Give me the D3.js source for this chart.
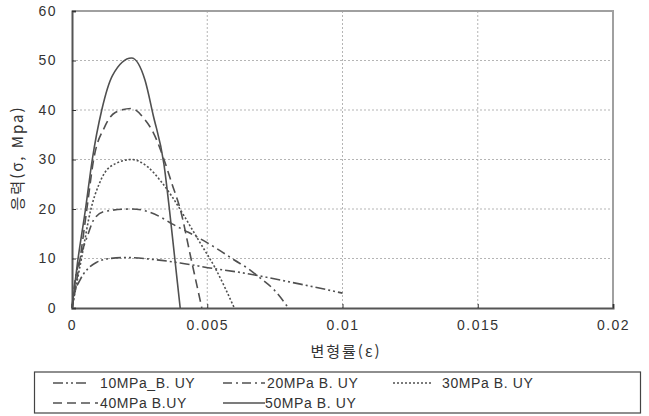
<!DOCTYPE html>
<html lang="ko">
  <head>
    <meta charset="UTF-8" />
    <title>응력-변형률</title>
    <script src="https://d3js.org/d3.v7.min.js"></script>
    <style>
      body { margin: 0; background: #fff; }
      svg { display: block; }
      text { font-family: "Liberation Sans", Arial, "Noto Sans CJK KR", sans-serif; fill: #333; }
      .kr { font-family: "Noto Sans CJK KR", sans-serif; }
    </style>
  </head>
  <body>
    <script>
      // strain / stress pairs
      const s10 = [[0,0],[0.0001,3],[0.0003,5.7],[0.0006,8],[0.0009,9.2],[0.0014,10],[0.002,10.2],[0.003,9.8],[0.004,9.1],[0.0052,8],[0.0062,7.2],[0.0072,6.2],[0.0081,5.2],[0.009,4.2],[0.01,3]];
      const s20 = [[0,0],[0.0001,5],[0.0003,10],[0.0006,15],[0.0008,17.8],[0.0012,19.5],[0.0022,20],[0.0028,19.5],[0.0033,18.3],[0.0037,17],[0.0043,15.3],[0.0049,13.5],[0.0055,11.5],[0.006,9.7],[0.0065,8],[0.0069,6.3],[0.0075,3.5],[0.008,0]];
      const s30 = [[0,0],[0.00035,10],[0.0007,20],[0.001,25],[0.0014,28.5],[0.0022,30],[0.0028,28.5],[0.0033,25.5],[0.0037,22.5],[0.0041,19],[0.0047,13.5],[0.0053,8],[0.006,0]];
      const s40 = [[0,0],[0.0003,10],[0.00055,20],[0.0008,30],[0.0012,36.5],[0.0016,39.5],[0.0022,40.3],[0.0027,38],[0.003,35.5],[0.0034,30],[0.0037,25],[0.004,20],[0.0044,10],[0.0048,0]];
      const s50 = [[0,0],[0.0002,9],[0.0005,20],[0.00075,30],[0.0011,40],[0.0015,47],[0.0022,50.5],[0.0027,46],[0.003,39],[0.0034,29],[0.0036,20],[0.0038,10],[0.004,0]];

      const seriesNames = ["10MPa_B. UY", "20MPa B. UY", "30MPa B. UY", "40MPa B.UY", "50MPa B. UY"];
      const seriesData = [s10, s20, s30, s40, s50];
      const dashes = ["10,3,2,3,2,3", "9,4,2,4", "2,2", "9,5", null];

      const xTicks = [0, 0.005, 0.01, 0.015, 0.02];
      const xTickLabels = ["0", "0.005", "0.01", "0.015", "0.02"];
      const yTicks = [0, 10, 20, 30, 40, 50, 60];

      const W = 649, H = 416;
      const pl = 72, pr = 613, pt = 11, pb = 308;

      const svg = d3.select("body").append("svg").attr("width", W).attr("height", H);

      const x = d3.scaleLinear().domain([0, 0.02]).range([pl, pr]);
      const y = d3.scaleLinear().domain([0, 60]).range([pb, pt]);

      // grid
      svg.append("g").selectAll("line").data(yTicks.filter(d => d > 0 && d < 60)).join("line")
        .attr("x1", pl).attr("x2", pr).attr("y1", d => y(d)).attr("y2", d => y(d))
        .attr("stroke", "#b5b5b5").attr("stroke-dasharray", "2,2");
      svg.append("g").selectAll("line").data(xTicks.filter(d => d > 0 && d < 0.02)).join("line")
        .attr("y1", pt).attr("y2", pb).attr("x1", d => x(d)).attr("x2", d => x(d))
        .attr("stroke", "#b5b5b5").attr("stroke-dasharray", "2,2");

      // frame
      svg.append("path").attr("d", `M${pl},${pt}H${pr}V${pb}`)
        .attr("fill", "none").attr("stroke", "#a0a0a0").attr("stroke-width", 2);

      // axes
      const xAxis = svg.append("g").attr("transform", `translate(0,${pb})`)
        .call(d3.axisBottom(x).tickValues(xTicks).tickFormat((d, i) => xTickLabels[i]).tickSize(-4).tickPadding(12));
      const yAxis = svg.append("g").attr("transform", `translate(${pl},0)`)
        .call(d3.axisLeft(y).tickValues(yTicks).tickSize(-4).tickPadding(15));
      [xAxis, yAxis].forEach(g => {
        g.select(".domain").attr("stroke", "#555").attr("stroke-width", 2);
        g.selectAll(".tick line").attr("stroke", "#333");
        g.selectAll("text").attr("font-size", 14).attr("letter-spacing", 1.5).attr("fill", "#444");
      });

      svg.append("text").attr("class", "kr").attr("x", 346).attr("y", 357)
        .attr("text-anchor", "middle").attr("font-size", 15).attr("letter-spacing", 2)
        .attr("fill", "#444").text("변형률(ε)");
      svg.append("text").attr("class", "kr")
        .attr("transform", "translate(23,158) rotate(-90)")
        .attr("text-anchor", "middle").attr("font-size", 15).attr("letter-spacing", 2)
        .attr("fill", "#444").text("응력(σ, Mpa)");

      // curves
      const line = d3.line().x(d => x(d[0])).y(d => y(d[1])).curve(d3.curveMonotoneX);
      const plot = svg.append("g");
      seriesData.forEach((data, i) => {
        plot.append("path").datum(data).attr("d", line)
          .attr("fill", "none").attr("stroke", "#505050").attr("stroke-width", 1.6)
          .attr("stroke-dasharray", dashes[i]);
      });

      // legend
      svg.append("rect").attr("x", 34.5).attr("y", 372).attr("width", 606).attr("height", 41)
        .attr("fill", "#fff").attr("stroke", "#444").attr("stroke-width", 1.2);
      const legendPos = [[53, 86, 100, 383], [223, 265, 267, 383], [393, 433, 442, 383], [53, 98, 100, 403], [223, 265, 265, 403]];
      seriesNames.forEach((name, i) => {
        const p = legendPos[i];
        svg.append("line").attr("x1", p[0]).attr("x2", p[1]).attr("y1", p[3]).attr("y2", p[3])
          .attr("stroke", "#505050").attr("stroke-width", 1.4).attr("stroke-dasharray", dashes[i]);
        svg.append("text").attr("x", p[2]).attr("y", p[3] + 5).attr("font-size", 14)
          .attr("letter-spacing", 0.6).attr("fill", "#444").text(name);
      });
    </script>
  </body>
</html>
